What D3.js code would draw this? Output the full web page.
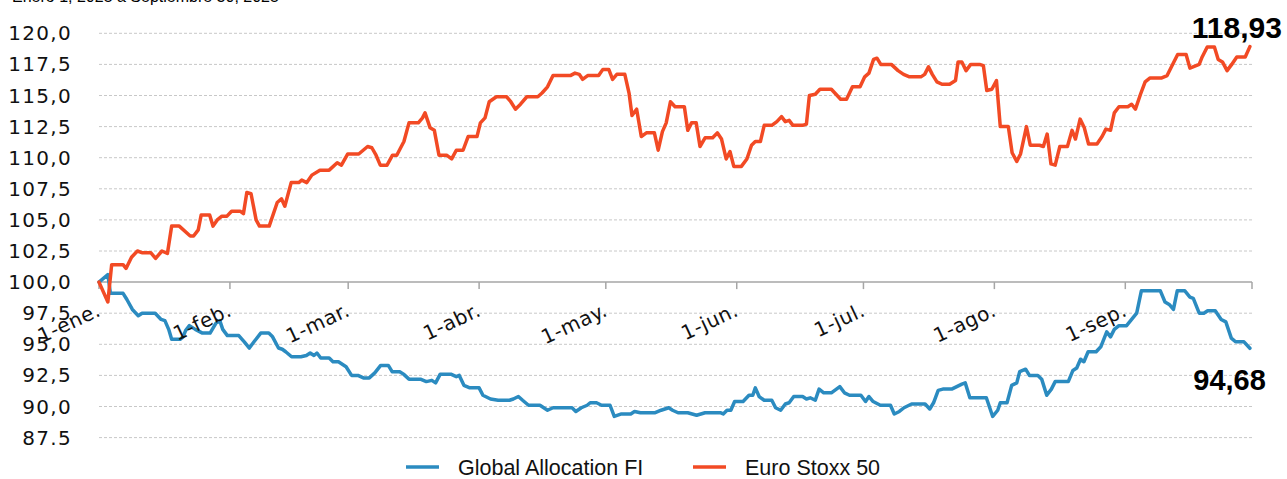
<!DOCTYPE html>
<html>
<head>
<meta charset="utf-8">
<script src="https://cdn.jsdelivr.net/npm/d3@7"></script>
<style>
  html, body { margin: 0; padding: 0; background: #fff; }
  svg { display: block; }
</style>
</head>
<body>
<svg id="chart" width="1287" height="479"></svg>
<script>
// [day offset from 1-ene., index value]
var fundSeries = [[0,100.0],[2.1,100.6],[2.7,99.1],[5.7,99.1],[6.6,98.6],[7.9,97.8],[9.3,97.3],[10.2,97.5],[13.3,97.5],[14.7,97.0],[15.6,96.9],[16.5,96.2],[17.2,95.4],[19.2,95.4],[19.9,95.6],[20.5,96.1],[21.4,96.5],[22.8,96.2],[24.5,95.9],[26.3,95.9],[27.7,96.7],[28.6,96.9],[29.3,96.2],[30.4,95.7],[33.1,95.7],[34.4,95.2],[35.6,94.7],[36.7,95.2],[38.3,95.9],[40.2,95.9],[41.1,95.6],[42.5,94.7],[43.4,94.6],[44.2,94.4],[45.6,94.0],[47.8,94.0],[49.1,94.1],[50.0,94.3],[50.9,94.1],[51.6,94.3],[52.5,93.9],[54.5,93.9],[55.4,93.6],[56.7,93.6],[58.5,93.2],[59.8,92.5],[61.3,92.5],[62.6,92.3],[64.0,92.3],[65.3,92.7],[66.7,93.3],[68.5,93.3],[69.4,92.8],[71.2,92.8],[72.1,92.6],[73.4,92.2],[76.1,92.2],[77.5,92.0],[78.8,92.1],[79.7,91.9],[80.8,92.6],[83.3,92.6],[84.6,92.4],[85.3,92.5],[86.4,91.7],[87.8,91.5],[90.0,91.5],[90.9,90.9],[92.7,90.6],[94.5,90.5],[97.2,90.5],[98.1,90.6],[99.3,90.8],[100.3,90.5],[101.7,90.1],[104.4,90.1],[105.3,89.9],[106.2,89.7],[107.5,89.9],[112.0,89.9],[112.9,89.6],[114.2,89.9],[115.6,90.1],[116.3,90.3],[117.8,90.3],[119.0,90.1],[121.0,90.1],[122.0,89.2],[123.7,89.4],[125.9,89.4],[126.8,89.6],[128.2,89.5],[131.7,89.5],[133.1,89.7],[134.9,89.9],[135.8,89.7],[137.1,89.5],[139.4,89.5],[141.5,89.3],[143.5,89.5],[147.1,89.5],[147.8,89.4],[148.7,89.7],[149.6,89.7],[150.5,90.4],[152.5,90.4],[153.9,90.9],[154.8,90.9],[155.4,91.5],[156.3,90.8],[157.5,90.5],[159.3,90.5],[160.2,89.9],[161.4,89.7],[162.5,90.2],[163.4,90.3],[164.5,90.8],[166.6,90.8],[167.5,90.6],[168.4,90.7],[169.6,90.5],[170.5,91.4],[171.6,91.1],[173.4,91.1],[175.4,91.6],[176.5,91.1],[177.7,90.9],[180.4,90.9],[181.5,90.4],[182.3,90.8],[183.3,90.4],[185.0,90.1],[187.4,90.1],[188.3,89.4],[189.5,89.6],[190.6,89.9],[192.4,90.2],[195.6,90.2],[196.7,89.8],[197.6,90.3],[198.7,91.3],[199.8,91.4],[201.9,91.4],[203.1,91.6],[204.3,91.8],[205.1,91.9],[206.2,90.7],[210.1,90.7],[211.6,89.2],[212.8,89.7],[213.4,90.3],[215.0,90.3],[216.1,91.7],[217.3,91.9],[218.0,92.8],[219.4,93.0],[220.3,92.5],[222.3,92.5],[223.2,92.2],[224.4,90.9],[225.5,91.4],[226.4,92.0],[229.5,92.0],[230.6,92.9],[231.5,93.1],[232.4,93.8],[233.2,93.6],[234.2,94.4],[236.1,94.4],[237.2,94.8],[238.6,96.0],[239.5,95.6],[240.4,96.2],[241.5,96.5],[243.3,96.5],[244.5,97.0],[245.7,97.5],[246.8,99.3],[251.3,99.3],[252.4,98.4],[253.4,98.2],[254.4,97.8],[255.3,99.3],[257.1,99.3],[258.3,98.8],[259.1,98.7],[260.5,97.5],[261.6,97.5],[262.5,97.7],[264.3,97.7],[265.7,97.0],[266.8,96.8],[268.1,95.5],[269.1,95.2],[271.1,95.2],[272.5,94.68]];

var stoxxSeries = [[0,100.0],[2.1,98.4],[3.0,101.4],[5.7,101.4],[6.4,101.1],[7.7,102.0],[9.1,102.5],[10.3,102.35],[12.3,102.35],[13.4,101.9],[14.9,102.5],[16.2,102.3],[17.2,104.5],[19.0,104.5],[21.6,103.7],[22.4,103.7],[23.5,104.2],[24.2,105.4],[26.2,105.4],[27.0,104.5],[28.0,105.0],[29.1,105.3],[30.3,105.3],[31.4,105.7],[33.4,105.7],[34.2,105.5],[35.0,107.2],[36.0,107.1],[37.2,105.0],[38.0,104.5],[40.3,104.5],[42.2,106.4],[43.2,106.7],[44.0,106.1],[45.5,108.0],[47.3,108.0],[48.0,108.2],[49.2,108.0],[50.4,108.6],[52.3,109.0],[54.5,109.0],[56.4,109.6],[57.4,109.4],[58.9,110.3],[61.5,110.3],[63.6,110.9],[64.6,110.8],[65.6,110.2],[66.6,109.4],[68.2,109.4],[69.5,110.2],[70.5,110.2],[72.2,111.3],[73.4,112.8],[75.6,112.8],[76.6,113.2],[77.2,113.6],[78.4,112.4],[79.4,112.2],[80.5,110.2],[82.3,110.2],[83.5,109.9],[84.6,110.6],[86.2,110.6],[87.4,111.7],[89.5,111.7],[90.3,112.8],[91.4,113.2],[92.4,114.5],[94.1,114.9],[96.5,114.9],[97.5,114.5],[98.6,113.9],[99.8,114.3],[101.3,114.9],[103.9,114.9],[104.9,115.2],[106.2,115.7],[107.5,116.6],[111.6,116.6],[112.7,116.8],[113.7,116.7],[114.5,116.3],[115.7,116.6],[118.3,116.6],[119.3,117.1],[120.7,117.1],[121.6,116.3],[122.6,116.7],[124.5,116.7],[125.5,115.2],[126.2,113.4],[127.3,113.9],[128.4,111.7],[129.6,112.0],[131.5,112.0],[132.4,110.6],[133.4,112.1],[134.3,112.8],[135.3,114.5],[136.4,114.1],[138.6,114.1],[139.4,112.2],[140.3,112.8],[141.4,112.8],[142.3,110.9],[143.5,111.6],[145.3,111.6],[146.4,112.0],[147.4,111.5],[148.5,109.9],[149.4,110.5],[150.3,109.3],[152.1,109.3],[153.4,109.9],[154.5,111.0],[155.4,111.3],[156.6,111.3],[157.5,112.6],[159.3,112.6],[160.5,112.9],[161.6,113.3],[162.5,112.9],[163.4,113.0],[164.3,112.6],[166.6,112.6],[167.5,112.7],[168.2,115.0],[169.6,115.1],[170.7,115.5],[173.4,115.5],[175.6,114.7],[177.0,114.7],[178.4,115.7],[180.2,115.7],[181.3,116.5],[182.3,116.8],[183.4,117.9],[184.2,118.0],[185.1,117.5],[187.6,117.5],[189.2,117.0],[190.5,116.7],[191.9,116.5],[194.6,116.5],[195.5,116.7],[196.4,117.3],[197.3,116.7],[198.4,116.1],[199.6,115.9],[201.4,115.9],[202.8,116.2],[203.4,117.7],[204.3,117.7],[205.3,117.0],[206.4,117.5],[208.5,117.5],[209.4,117.4],[210.2,115.4],[211.4,115.5],[212.5,116.2],[213.4,112.5],[215.3,112.5],[216.2,110.4],[217.3,109.7],[218.2,110.3],[219.6,112.5],[220.5,111.0],[222.7,111.0],[223.6,110.9],[224.5,111.9],[225.4,109.5],[226.4,109.4],[227.5,110.9],[229.3,110.9],[230.4,112.2],[231.2,111.5],[232.3,113.1],[233.3,112.4],[234.3,111.1],[236.3,111.1],[237.5,111.7],[238.4,112.3],[239.5,112.2],[240.4,113.6],[241.5,114.1],[243.6,114.1],[244.5,114.3],[245.4,113.9],[246.6,115.1],[247.7,116.1],[248.8,116.4],[251.5,116.4],[252.9,116.6],[254.2,117.5],[255.4,118.3],[257.4,118.3],[258.3,117.2],[260.5,117.5],[261.2,118.1],[262.4,118.9],[264.1,118.9],[265.0,117.9],[266.0,117.7],[267.1,117.0],[268.2,117.5],[269.4,118.1],[271.4,118.1],[272.5,118.93]];

var seriesNames = ["Global Allocation FI", "Euro Stoxx 50"];
var seriesColors = ["#2b8bc0", "#f24a24"];
var monthLabels = ["1-ene.", "1-feb.", "1-mar.", "1-abr.", "1-may.", "1-jun.", "1-jul.", "1-ago.", "1-sep."];
var yTicks = [87.5, 90, 92.5, 95, 97.5, 100, 102.5, 105, 107.5, 110, 112.5, 115, 117.5, 120];
var yTickLabels = ["87.5", "90,0", "92,5", "95,0", "97,5", "100,0", "102,5", "105,0", "107,5", "110,0", "112,5", "115,0", "117,5", "120,0"];
var endLabels = ["94,68", "118,93"];
var subtitle = "Enero 1, 2025 a Septiembre 30, 2025";

var startDate = new Date(Date.UTC(2025, 0, 1));
var endDate = new Date(Date.UTC(2025, 9, 1));
function dayToDate(d) { return new Date(startDate.getTime() + d * 864e5); }

var svg = d3.select("#chart");
var x = d3.scaleUtc().domain([startDate, endDate]).range([99, 1252]);
var y = d3.scaleLinear().domain([87.5, 120]).range([437.6, 33.3]);

// subtitle, cut at the top edge like the original
svg.append("text")
    .attr("x", 12).attr("y", 2)
    .attr("font-family", "Liberation Sans, Arial, sans-serif")
    .attr("font-size", 16)
    .attr("fill", "#000")
    .text(subtitle);

// dashed grid (axis at 100 is drawn solid)
svg.append("g").selectAll("line")
    .data(yTicks.filter(function(v){ return v != 100; }))
    .enter().append("line")
    .attr("x1", x.range()[0]).attr("x2", x.range()[1])
    .attr("y1", function(d){ return y(d); })
    .attr("y2", function(d){ return y(d); })
    .attr("stroke", "#c8c8c8")
    .attr("stroke-width", 1)
    .attr("stroke-dasharray", "3,2");

// y labels
svg.append("g").selectAll("text")
    .data(yTicks).enter().append("text")
    .attr("x", 72)
    .attr("y", function(d){ return y(d) + 7; })
    .attr("text-anchor", "end")
    .attr("font-family", "DejaVu Sans, Verdana, sans-serif")
    .attr("font-size", 20)
    .attr("letter-spacing", 1.3)
    .attr("fill", "#111")
    .text(function(d, i){ return yTickLabels[i]; });

// x axis crossing at 100
var monthTicks = d3.utcMonth.range(startDate, d3.utcDay.offset(endDate, 1));
var axisY = y(100);
svg.append("line")
    .attr("x1", x.range()[0]).attr("x2", x.range()[1])
    .attr("y1", axisY).attr("y2", axisY)
    .attr("stroke", "#a6a6a6").attr("stroke-width", 1.5);
svg.append("g").selectAll("line")
    .data(monthTicks).enter().append("line")
    .attr("x1", function(d){ return x(d); })
    .attr("x2", function(d){ return x(d); })
    .attr("y1", axisY).attr("y2", axisY + 7)
    .attr("stroke", "#a6a6a6").attr("stroke-width", 1.5);

// lines
var line = d3.line()
    .x(function(d){ return x(dayToDate(d[0])); })
    .y(function(d){ return y(d[1]); });

[fundSeries, stoxxSeries].forEach(function(s, i){
    svg.append("path")
        .datum(s)
        .attr("d", line)
        .attr("fill", "none")
        .attr("stroke", seriesColors[i])
        .attr("stroke-width", 3.5)
        .attr("stroke-linejoin", "round")
        .attr("stroke-linecap", "round");
});

// month labels, rotated, drawn over the lines
svg.append("g").selectAll("text")
    .data(monthTicks.slice(0, monthLabels.length)).enter().append("text")
    .attr("transform", function(d){ return "translate(" + (x(d) + 3) + "," + 315 + ") rotate(-25)"; })
    .attr("text-anchor", "end")
    .attr("font-family", "DejaVu Sans, Verdana, sans-serif")
    .attr("font-size", 20)
    .attr("letter-spacing", 0.5)
    .attr("fill", "#111")
    .text(function(d, i){ return monthLabels[i]; });

// end values
var lastFund = fundSeries[fundSeries.length - 1];
var lastStoxx = stoxxSeries[stoxxSeries.length - 1];
svg.append("text")
    .attr("x", x(dayToDate(lastFund[0])) + 16).attr("y", y(lastFund[1]) + 42)
    .attr("text-anchor", "end")
    .attr("font-family", "Liberation Sans, Arial, sans-serif")
    .attr("font-weight", "bold").attr("font-size", 29)
    .attr("fill", "#000")
    .text(endLabels[0]);
svg.append("text")
    .attr("x", x(dayToDate(lastStoxx[0])) + 32).attr("y", y(lastStoxx[1]) - 9)
    .attr("text-anchor", "end")
    .attr("font-family", "Liberation Sans, Arial, sans-serif")
    .attr("font-weight", "bold").attr("font-size", 30)
    .attr("fill", "#000")
    .text(endLabels[1]);

// legend
var legendX = [406, 693];
var legend = svg.append("g");
seriesNames.forEach(function(name, i){
    legend.append("line")
        .attr("x1", legendX[i]).attr("x2", legendX[i] + 33)
        .attr("y1", 467).attr("y2", 467)
        .attr("stroke", seriesColors[i]).attr("stroke-width", 3.5);
    legend.append("text")
        .attr("x", legendX[i] + 52).attr("y", 475)
        .attr("font-family", "Liberation Sans, Arial, sans-serif")
        .attr("font-size", 21.5)
        .attr("fill", "#111")
        .text(name);
});
</script>
</body>
</html>
